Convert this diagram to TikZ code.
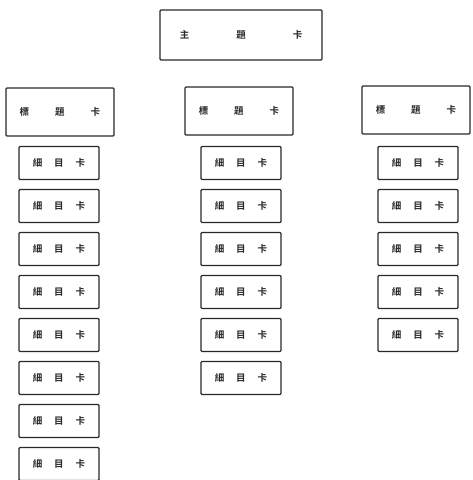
\documentclass[tikz,border=0pt]{standalone}
\usepackage{fontspec}
\newfontfamily\cjk[BoldFont={Noto Sans CJK TC Bold}]{Noto Sans CJK TC}
\usepackage{tikz}
\definecolor{inkclr}{RGB}{40, 40, 40}
\tikzset{
  card/.style={draw=inkclr, line width=1.4pt, rounded corners=1pt, fill=white,
    text=inkclr, inner sep=0pt, font=\cjk\bfseries\fontsize{9.5}{9.5}\selectfont},
  topcard/.style={card, minimum width=162pt, minimum height=50pt},
  headcard/.style={card, minimum width=108pt, minimum height=48pt},
  detailcard/.style={card, minimum width=80pt, minimum height=33pt},
}

\begin{document}
\begin{tikzpicture}[x=1pt, y=-1pt]
  \useasboundingbox (0,0) rectangle (473,480);
  % top card
  \node[topcard] (main) at (241,35) {主\hspace{47pt}題\hspace{47pt}卡};
  % heading cards
  \node[headcard] (head1) at (60,112)  {標\hspace{26pt}題\hspace{26pt}卡};
  \node[headcard] (head2) at (239,111) {標\hspace{26pt}題\hspace{26pt}卡};
  \node[headcard] (head3) at (416,110) {標\hspace{26pt}題\hspace{26pt}卡};
  % detail cards, one column per heading
  \foreach \col/\x/\n in {1/59/8, 2/241/6, 3/418/5}{
    \foreach \k in {1,...,\n}{
      \node[detailcard] (detail\col-\k) at (\x,{163+43*(\k-1)})
        {細\hspace{12pt}目\hspace{12pt}卡};
    }
  }
\end{tikzpicture}
\end{document}
